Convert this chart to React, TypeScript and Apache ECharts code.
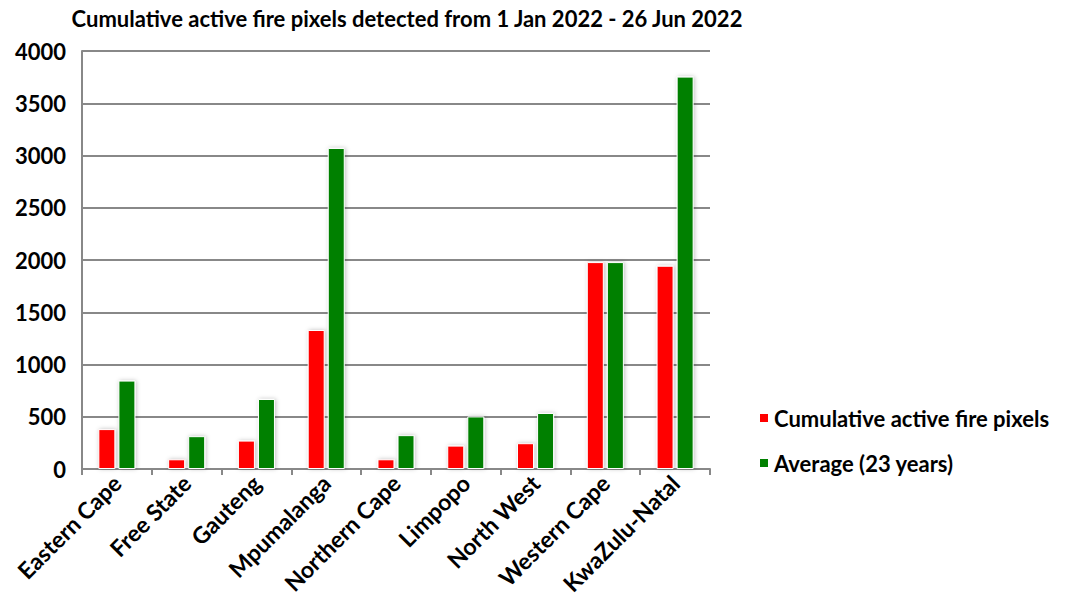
import React, { useEffect, useRef } from "react";
import * as echarts from "echarts";

const categories = ["Eastern Cape", "Free State", "Gauteng", "Mpumalanga", "Northern Cape", "Limpopo", "North West", "Western Cape", "KwaZulu-Natal"];
const cumulative = [382, 93, 272, 1330, 93, 224, 247, 1980, 1945];
const average = [846, 314, 670, 3072, 324, 503, 536, 1980, 3755];
const yTicks = [0, 500, 1000, 1500, 2000, 2500, 3000, 3500, 4000];

const FONT = "Lato, 'Open Sans', sans-serif";

export default function App() {
  const ref = useRef<HTMLDivElement>(null);
  useEffect(() => {
    if (!ref.current) return;
    const chart = echarts.init(ref.current, null, { renderer: "svg" });
    const shadow = { shadowColor: "rgba(0,0,0,0.25)", shadowBlur: 4, shadowOffsetX: 1, shadowOffsetY: 0 };
    chart.setOption({
      animation: false,
      backgroundColor: "#ffffff",
      title: {
        text: "Cumulative active fire pixels detected from 1 Jan 2022 - 26 Jun 2022",
        left: 407,
        top: 6,
        padding: 0,
        textAlign: "center",
        textStyle: { fontFamily: FONT, fontWeight: "bold", fontSize: 22, lineHeight: 24, color: "#000" },
      },
      legend: {
        orient: "vertical",
        left: 753,
        top: 402,
        itemWidth: 10,
        itemHeight: 10,
        itemGap: 23,
        icon: "rect",
        textStyle: { fontFamily: FONT, fontWeight: "bold", fontSize: 22, color: "#000" },
        data: ["Cumulative active fire pixels", "Average (23 years)"],
      },
      grid: { left: 82, right: 365, top: 51, bottom: 144, containLabel: false },
      xAxis: {
        type: "category",
        data: categories,
        axisLine: { lineStyle: { color: "#888", width: 2 } },
        axisTick: { show: true, alignWithLabel: false, length: 6, lineStyle: { color: "#888", width: 2 } },
        axisLabel: {
          rotate: 45,
          interval: 0,
          margin: 10,
          fontFamily: FONT,
          fontWeight: "bold",
          fontSize: 23,
          color: "#000",
        },
      },
      yAxis: {
        type: "value",
        min: yTicks[0],
        max: yTicks[yTicks.length - 1],
        interval: 500,
        axisLine: { show: true, lineStyle: { color: "#888", width: 2 } },
        axisTick: { show: false },
        splitLine: { lineStyle: { color: "#888", width: 2 } },
        axisLabel: {
          fontFamily: FONT,
          fontWeight: "bold",
          fontSize: 22,
          color: "#000",
          margin: 16,
          formatter: (v: number) => String(v),
        },
      },
      series: [
        {
          name: "Cumulative active fire pixels",
          type: "bar",
          data: cumulative,
          barWidth: 17,
          barGap: "18%",
          itemStyle: { color: "#ff0000", borderColor: "#fff", borderWidth: 1, ...shadow },
        },
        {
          name: "Average (23 years)",
          type: "bar",
          data: average,
          barWidth: 17,
          barGap: "18%",
          itemStyle: { color: "#008000", borderColor: "#fff", borderWidth: 1, ...shadow },
        },
      ],
    });
    return () => chart.dispose();
  }, []);
  return (
    <div
      ref={ref}
      style={{ position: "fixed", left: 0, top: 0, width: 1075, height: 613 }}
    />
  );
}
